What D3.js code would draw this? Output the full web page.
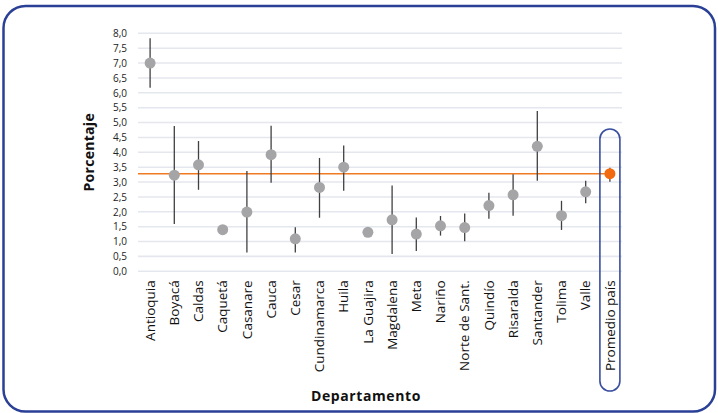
<!DOCTYPE html>
<html><head><meta charset="utf-8">
<script src="https://cdn.jsdelivr.net/npm/d3@7"></script>
<style>
html,body{margin:0;padding:0;background:#fff;}
svg{display:block;font-family:"Open Sans","Noto Sans",sans-serif;}
</style></head>
<body>
<svg id="chart" width="718" height="413"></svg>
<script>
const categories = ["Antioquia","Boyacá","Caldas","Caquetá","Casanare","Cauca","Cesar","Cundinamarca","Huila","La Guajira","Magdalena","Meta","Nariño","Norte de Sant.","Quindío","Risaralda","Santander","Tolima","Valle","Promedio país"];
const values = [7.0,3.23,3.58,1.40,1.99,3.92,1.09,2.82,3.50,1.31,1.73,1.25,1.53,1.47,2.21,2.57,4.20,1.87,2.67,3.28];
const upper  = [7.83,4.88,4.38,1.40,3.37,4.89,1.48,3.81,4.23,1.31,2.88,1.81,1.86,1.94,2.64,3.26,5.39,2.37,3.04,3.48];
const lower  = [6.17,1.59,2.74,1.40,0.63,2.98,0.63,1.80,2.71,1.31,0.58,0.68,1.20,1.01,1.77,1.87,3.04,1.39,2.29,3.01];
const yTicks = [0,0.5,1,1.5,2,2.5,3,3.5,4,4.5,5,5.5,6,6.5,7,7.5,8];
const average = 3.28;
const highlight = "Promedio país";

const svg = d3.select("#chart");
const pLeft = 138, pRight = 622, pTop = 33.3, pBottom = 271.3;

// outer frame
svg.append("rect").attr("x",3.5).attr("y",6).attr("width",711.5).attr("height",405.5)
  .attr("rx",22).attr("ry",22).attr("fill","none").attr("stroke","#2a3f96").attr("stroke-width",2.5);

const x = d3.scaleBand().domain(categories).range([pLeft,pRight]);
const y = d3.scaleLinear().domain([0,8]).range([pBottom,pTop]);
const fmt = v => d3.format(".1f")(v).replace(".",",");

// grid
svg.append("g").selectAll("line").data(yTicks).join("line")
  .attr("x1",pLeft).attr("x2",pRight).attr("y1",d=>y(d)).attr("y2",d=>y(d))
  .attr("stroke","#e5e7ee").attr("stroke-width",1.6);

// y axis labels
const yAxis = svg.append("g").attr("transform",`translate(${pLeft},0)`)
  .call(d3.axisLeft(y).tickValues(yTicks).tickFormat(fmt).tickSize(0).tickPadding(11));
yAxis.select(".domain").remove();
yAxis.selectAll("text").attr("font-size",10).attr("fill","#222").attr("font-family","'Open Sans',sans-serif");

// x axis labels
const xAxis = svg.append("g").attr("transform",`translate(0,${pBottom})`)
  .call(d3.axisBottom(x).tickSize(0).tickPadding(0));
xAxis.select(".domain").remove();
xAxis.selectAll("text")
  .attr("transform","rotate(-90)")
  .attr("text-anchor","end")
  .attr("x",-9).attr("y",0).attr("dy","0.35em")
  .attr("font-size",13.5).attr("fill","#111").attr("font-family","'Open Sans',sans-serif");

// average line
svg.append("line").attr("x1",pLeft).attr("x2",x(highlight)+x.bandwidth()/2)
  .attr("y1",y(average)).attr("y2",y(average))
  .attr("stroke","#f07a22").attr("stroke-width",1.6);

// error bars
const data = categories.map((c,i)=>({c,v:values[i],hi:upper[i],lo:lower[i]}));
svg.append("g").selectAll("line").data(data.filter(d=>d.hi!==d.lo)).join("line")
  .attr("x1",d=>x(d.c)+x.bandwidth()/2).attr("x2",d=>x(d.c)+x.bandwidth()/2)
  .attr("y1",d=>y(d.hi)).attr("y2",d=>y(d.lo))
  .attr("stroke","#404040").attr("stroke-width",1.3);

// points
svg.append("g").selectAll("circle").data(data).join("circle")
  .attr("cx",d=>x(d.c)+x.bandwidth()/2).attr("cy",d=>y(d.v)).attr("r",5.5)
  .attr("fill",d=>d.c===highlight?"#f26b10":"#a5a5a8");

// highlight pill
const hx = x(highlight)+x.bandwidth()/2;
svg.append("rect").attr("x",hx-10).attr("y",129).attr("width",20).attr("height",262)
  .attr("rx",10).attr("ry",10).attr("fill","none").attr("stroke","#3a4f9e").attr("stroke-width",1.6);

// titles
svg.append("text").attr("transform",`translate(94,${(pTop+pBottom)/2}) rotate(-90)`)
  .attr("text-anchor","middle").attr("font-weight","bold").attr("font-size",14).attr("letter-spacing",0.3).attr("fill","#111")
  .text("Porcentaje");
svg.append("text").attr("x",366).attr("y",401)
  .attr("text-anchor","middle").attr("font-weight","bold").attr("font-size",14).attr("letter-spacing",0.6).attr("fill","#111")
  .text("Departamento");
</script>
</body></html>
